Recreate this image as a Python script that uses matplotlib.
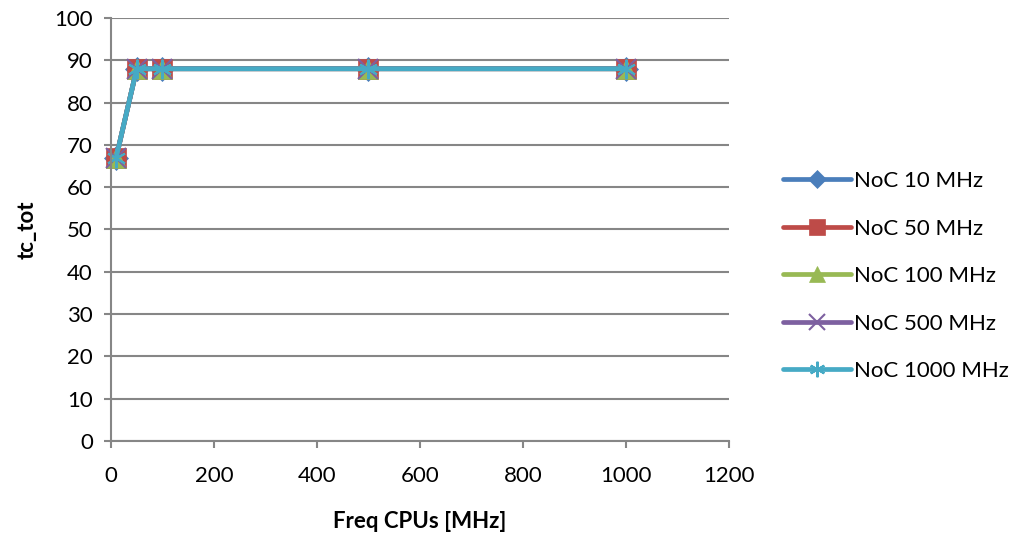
import matplotlib
matplotlib.use("Agg")
import matplotlib.pyplot as plt

plt.rcParams['font.family'] = ['Lato', 'DejaVu Sans']

freq_cpus = [10, 50, 100, 500, 1000]
series_names = ["NoC 10 MHz", "NoC 50 MHz", "NoC 100 MHz", "NoC 500 MHz", "NoC 1000 MHz"]
tc_tot_10 = [67, 88, 88, 88, 88]
tc_tot_50 = [67, 88, 88, 88, 88]
tc_tot_100 = [67, 88, 88, 88, 88]
tc_tot_500 = [67, 88, 88, 88, 88]
tc_tot_1000 = [67, 88, 88, 88, 88]
x_ticks = [0, 200, 400, 600, 800, 1000, 1200]
y_ticks = [0, 10, 20, 30, 40, 50, 60, 70, 80, 90, 100]

colors = ["#4A7EBB", "#BE4B48", "#98B954", "#7D60A0", "#46AAC5"]
markers = ["D", "s", "^", "x", (6, 2, 0)]
msizes = [12, 14, 14, 14, 14]

fig = plt.figure(figsize=(10.25, 5.35), dpi=100)
ax = fig.add_axes([0.1083, 0.1757, 0.6027, 0.7907])

all_series = [tc_tot_10, tc_tot_50, tc_tot_100, tc_tot_500, tc_tot_1000]
for vals, name, c, m, ms in zip(all_series, series_names, colors, markers, msizes):
    ax.plot(freq_cpus, vals, color=c, lw=3.4, marker=m, markersize=ms,
            markeredgecolor=c, markerfacecolor=c,
            markeredgewidth=1.5 if m in ("x", (6, 2, 0)) else 0.5,
            label=name, solid_capstyle='round', clip_on=False)

ax.set_xlim(0, 1200)
ax.set_ylim(0, 100)
ax.set_xticks(x_ticks)
ax.set_yticks(y_ticks)
ax.yaxis.grid(True, color="#868686", lw=1.5)
ax.set_axisbelow(True)
for s in ("top", "right"):
    ax.spines[s].set_visible(False)
for s in ("left", "bottom"):
    ax.spines[s].set_color("#868686")
    ax.spines[s].set_linewidth(1.5)
ax.tick_params(axis='both', colors="#868686", labelcolor="black", labelsize=16,
               length=5, width=1.5, direction='out')
ax.tick_params(axis='x', pad=13)
ax.tick_params(axis='y', pad=8)

ax.set_xlabel("Freq CPUs [MHz]", fontsize=16, fontweight='bold', labelpad=18)
ax.set_ylabel("tc_tot", fontsize=16, fontweight='bold', labelpad=12)

leg = fig.legend(loc='center left', bbox_to_anchor=(0.744, 0.484), frameon=False,
                 fontsize=16, handlelength=3.1, handletextpad=0.1, labelspacing=1.24,
                 markerscale=0.8)

fig.savefig("out.png", dpi=100)
